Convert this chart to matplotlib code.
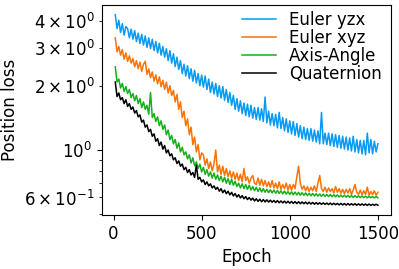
import numpy as np
import matplotlib
matplotlib.use('Agg')
import matplotlib.pyplot as plt

plt.rcParams['font.family'] = 'DejaVu Sans'
plt.rcParams['font.size'] = 12

# epochs sampled every 10
epochs = np.arange(10, 1501, 10)

euler_yzx = [
    4.30, 3.70, 4.05, 3.55, 3.90, 3.45, 3.78, 3.70, 3.35, 3.68,
    3.30, 3.62, 3.22, 3.52, 3.15, 3.48, 3.10, 3.42, 3.02, 3.35,
    2.98, 3.30, 2.92, 3.22, 2.85, 3.16, 2.78, 3.05, 2.72, 2.98,
    2.62, 2.92, 2.55, 2.82, 2.46, 2.72, 2.38, 2.62, 2.28, 2.52,
    2.22, 2.48, 2.16, 2.40, 2.10, 2.36, 2.06, 2.28, 2.00, 2.24,
    1.97, 2.22, 1.92, 2.15, 1.86, 2.08, 1.83, 2.05, 1.78, 2.00,
    1.75, 1.98, 1.71, 1.92, 1.67, 1.86, 1.62, 1.80, 1.55, 1.74,
    1.52, 1.70, 1.48, 1.66, 1.45, 1.64, 1.43, 1.62, 1.41, 1.58,
    1.39, 1.58, 1.38, 1.56, 1.36, 1.77, 1.34, 1.52, 1.31, 1.48,
    1.30, 1.47, 1.27, 1.50, 1.26, 1.42, 1.23, 1.40, 1.21, 1.37,
    1.19, 1.36, 1.17, 1.33, 1.15, 1.30, 1.13, 1.28, 1.12, 1.26,
    1.11, 1.26, 1.10, 1.24, 1.09, 1.23, 1.07, 1.50, 1.07, 1.20,
    1.06, 1.20, 1.05, 1.19, 1.04, 1.18, 1.03, 1.17, 1.02, 1.16,
    1.01, 1.15, 1.00, 1.14, 0.99, 1.16, 0.98, 1.12, 0.97, 1.11,
    0.96, 1.11, 0.95, 1.20, 0.97, 1.12, 0.96, 1.10, 0.98, 1.07,
]
euler_xyz = [
    3.35, 2.88, 3.05, 2.78, 2.95, 2.66, 2.85, 2.60, 2.76, 2.55,
    2.68, 2.45, 2.62, 2.40, 2.58, 2.33, 2.52, 2.60, 2.26, 2.40,
    2.18, 2.32, 2.10, 2.25, 2.04, 2.20, 1.98, 2.12, 1.92, 2.08,
    1.85, 2.00, 1.80, 1.90, 1.68, 1.82, 1.55, 1.68, 1.42, 1.52,
    1.30, 1.40, 1.18, 1.28, 1.06, 1.15, 0.98, 1.06, 0.90, 0.97,
    0.95, 0.85, 0.91, 0.82, 0.88, 0.80, 0.86, 1.00, 0.79, 0.85,
    0.77, 0.84, 0.76, 0.82, 0.75, 0.80, 0.74, 0.79, 0.73, 0.78,
    0.72, 0.77, 0.71, 0.82, 0.72, 0.75, 0.70, 0.74, 0.76, 0.70,
    0.69, 0.74, 0.685, 0.73, 0.68, 0.72, 0.675, 0.71, 0.67, 0.72,
    0.665, 0.70, 0.66, 0.71, 0.655, 0.69, 0.66, 0.70, 0.65, 0.69,
    0.65, 0.69, 0.66, 0.75, 0.84, 0.70, 0.655, 0.68, 0.645, 0.675,
    0.64, 0.67, 0.645, 0.68, 0.64, 0.70, 0.76, 0.66, 0.64, 0.67,
    0.635, 0.665, 0.64, 0.66, 0.63, 0.675, 0.635, 0.66, 0.628, 0.655,
    0.625, 0.655, 0.63, 0.66, 0.62, 0.65, 0.69, 0.635, 0.62, 0.65,
    0.618, 0.645, 0.62, 0.67, 0.615, 0.64, 0.62, 0.645, 0.615, 0.635,
]
axis_angle = [
    2.45, 2.08, 2.15, 1.95, 2.05, 1.88, 1.98, 1.84, 1.92, 1.76,
    1.84, 1.70, 1.80, 1.65, 1.74, 1.58, 1.68, 1.55, 1.62, 1.47,
    1.86, 1.42, 1.48, 1.36, 1.43, 1.30, 1.37, 1.25, 1.31, 1.18,
    1.24, 1.12, 1.17, 1.07, 1.12, 1.02, 1.08, 0.98, 1.03, 0.95,
    0.98, 0.91, 0.95, 0.87, 0.92, 0.845, 0.88, 0.82, 0.86, 0.79,
    0.83, 0.77, 0.81, 0.755, 0.79, 0.74, 0.78, 0.73, 0.765, 0.72,
    0.755, 0.71, 0.745, 0.70, 0.735, 0.69, 0.73, 0.685, 0.715, 0.675,
    0.70, 0.665, 0.695, 0.66, 0.69, 0.655, 0.685, 0.65, 0.675, 0.645,
    0.67, 0.64, 0.665, 0.637, 0.66, 0.635, 0.655, 0.632, 0.652, 0.63,
    0.65, 0.628, 0.647, 0.626, 0.645, 0.624, 0.643, 0.622, 0.64, 0.62,
    0.638, 0.618, 0.636, 0.617, 0.634, 0.615, 0.632, 0.614, 0.63, 0.613,
    0.628, 0.611, 0.626, 0.61, 0.625, 0.609, 0.623, 0.608, 0.622, 0.607,
    0.62, 0.606, 0.619, 0.605, 0.618, 0.604, 0.617, 0.603, 0.616, 0.603,
    0.615, 0.602, 0.614, 0.601, 0.613, 0.60, 0.612, 0.60, 0.611, 0.599,
    0.61, 0.599, 0.609, 0.598, 0.608, 0.598, 0.607, 0.597, 0.607, 0.598,
]
quaternion = [
    2.08, 1.78, 1.85, 1.72, 1.76, 1.65, 1.72, 1.60, 1.65, 1.55,
    1.59, 1.49, 1.53, 1.43, 1.46, 1.35, 1.38, 1.28, 1.31, 1.22,
    1.25, 1.16, 1.19, 1.10, 1.13, 1.05, 1.09, 1.01, 1.05, 0.97,
    1.00, 0.94, 0.96, 0.90, 0.92, 0.865, 0.89, 0.84, 0.86, 0.81,
    0.83, 0.785, 0.81, 0.765, 0.785, 0.745, 0.85, 0.73, 0.745, 0.71,
    0.725, 0.69, 0.71, 0.68, 0.695, 0.665, 0.68, 0.655, 0.67, 0.642,
    0.66, 0.632, 0.65, 0.625, 0.642, 0.617, 0.634, 0.61, 0.626, 0.603,
    0.618, 0.597, 0.612, 0.592, 0.606, 0.587, 0.60, 0.583, 0.596, 0.578,
    0.592, 0.575, 0.589, 0.573, 0.587, 0.572, 0.585, 0.571, 0.583, 0.57,
    0.581, 0.568, 0.58, 0.567, 0.578, 0.566, 0.577, 0.565, 0.576, 0.564,
    0.575, 0.563, 0.574, 0.562, 0.573, 0.561, 0.572, 0.561, 0.571, 0.56,
    0.57, 0.559, 0.569, 0.558, 0.568, 0.558, 0.567, 0.557, 0.566, 0.557,
    0.565, 0.556, 0.565, 0.555, 0.564, 0.555, 0.563, 0.554, 0.563, 0.554,
    0.562, 0.553, 0.562, 0.553, 0.561, 0.553, 0.561, 0.552, 0.56, 0.552,
    0.56, 0.552, 0.559, 0.551, 0.559, 0.551, 0.558, 0.551, 0.558, 0.552,
]

series = [
    ('Euler yzx', euler_yzx, '#069af3'),
    ('Euler xyz', euler_xyz, '#f97306'),
    ('Axis-Angle', axis_angle, '#15b01a'),
    ('Quaternion', quaternion, 'black'),
]

fig = plt.figure(figsize=(3.99, 2.69), dpi=100)
ax = fig.add_axes([0.256, 0.201, 0.724, 0.780])
for name, vals, col in series:
    ax.plot(epochs, vals, color=col, lw=1.1, label=name)

ax.set_yscale('log')
ax.set_xlabel('Epoch')
ax.set_ylabel('Position loss')
ax.set_xticks([0, 500, 1000, 1500])
ax.legend(loc='upper right', bbox_to_anchor=(0.979, 0.99), frameon=False,
          labelspacing=0.0, borderaxespad=0.1, borderpad=0.1)

fig.savefig('out.png', dpi=100)
